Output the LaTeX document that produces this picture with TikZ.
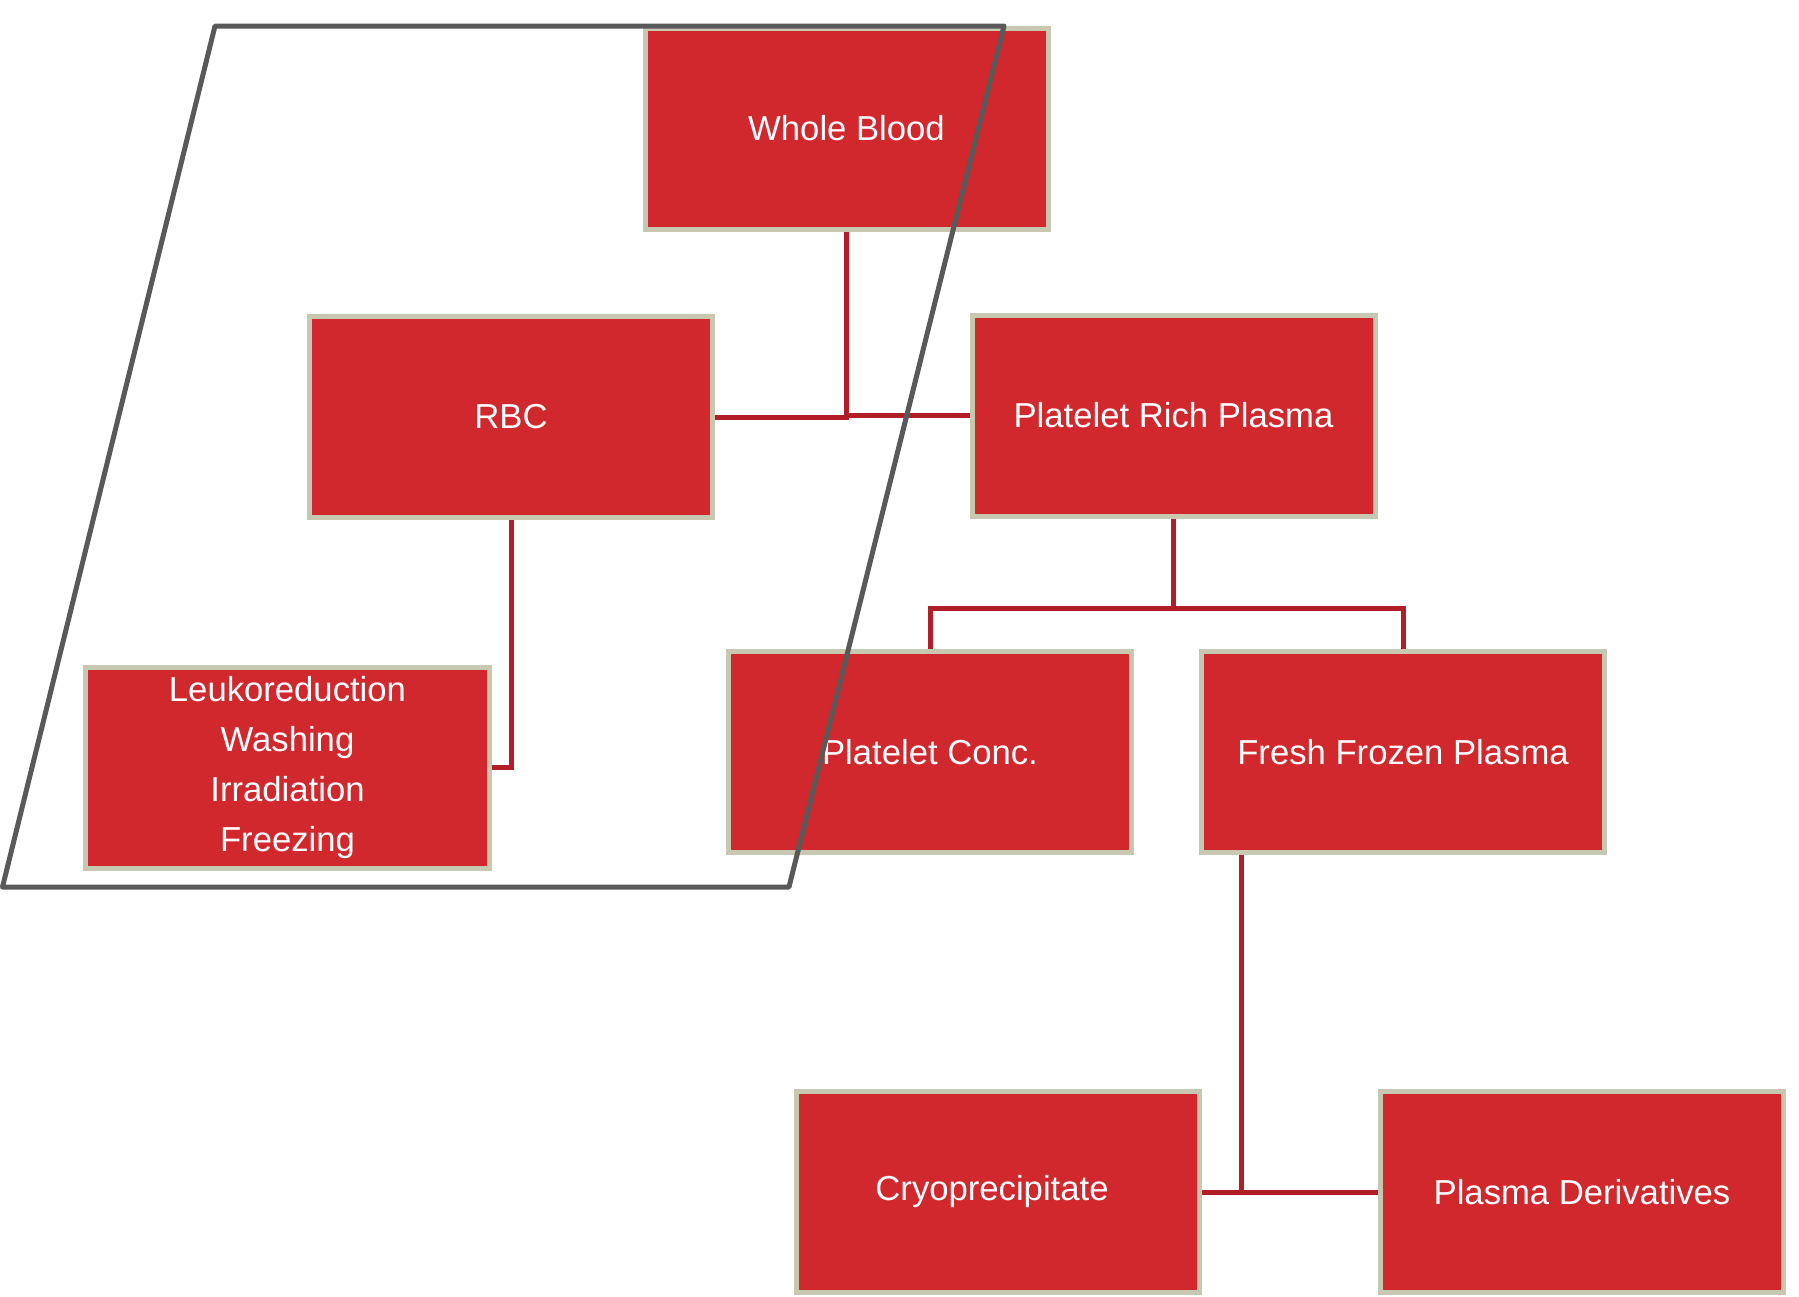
\documentclass[tikz,border=0pt]{standalone}
\usepackage{fontspec}
\setmainfont{Liberation Sans}
\definecolor{boxred}{RGB}{209,40,46}
\definecolor{boxedge}{RGB}{200,200,176}
\definecolor{linkred}{RGB}{178,30,40}
\definecolor{frame}{RGB}{89,89,89}
\begin{document}
\begin{tikzpicture}[x=1bp,y=-1bp,
  blk/.style={rectangle, fill=boxred, draw=boxedge, line width=5bp,
    minimum width=403bp, minimum height=201bp, inner sep=0pt,
    text=white, align=center, font=\fontsize{34.8}{50}\selectfont},
  link/.style={draw=linkred, line width=5bp},
  frameline/.style={draw=frame, line width=5bp, line join=round}]
\useasboundingbox (0,0) rectangle (1799,1296);
\coordinate (bus) at (1173.5,608);
\coordinate (f) at (1241,855);
\node[blk] (WB) at (846.5,128.5) {Whole Blood};
\node[blk] (RBC) at (511,417) {RBC};
\node[blk] (PRP) at (1173.5,415.5) {Platelet Rich Plasma};
\node[blk] (LEU) at (287.5,767.5) {Leukoreduction\\Washing\\Irradiation\\Freezing};
\node[blk] (PC) at (930,752) {Platelet Conc.};
\node[blk] (FFP) at (1403,752) {Fresh Frozen Plasma};
\node[blk] (CRY) at (998,1192) {\hspace*{-12bp}Cryoprecipitate};
\node[blk] (PD) at (1582,1192) {Plasma Derivatives};
\draw[link] (RBC.east) -- (RBC.east -| WB.south) -- (WB.south);
\draw[link] (WB.south |- PRP.west) -- (PRP.west);
\draw[link] (PRP.south) -- (bus);
\draw[link] (PC.north) -- (PC.north |- bus) -- (FFP.north |- bus) -- (FFP.north);
\draw[link] (RBC.south) |- (LEU.east);
\draw[link] (f) -- (f |- CRY.east);
\draw[link] (CRY.east) -- (PD.west);
\coordinate (p1) at (215,26);
\coordinate (p2) at (1004,26);
\coordinate (p3) at (789,887);
\coordinate (p4) at (2.5,887);
\draw[frameline] (p1) -- (p2) -- (p3) -- (p4) -- cycle;
\end{tikzpicture}
\end{document}
